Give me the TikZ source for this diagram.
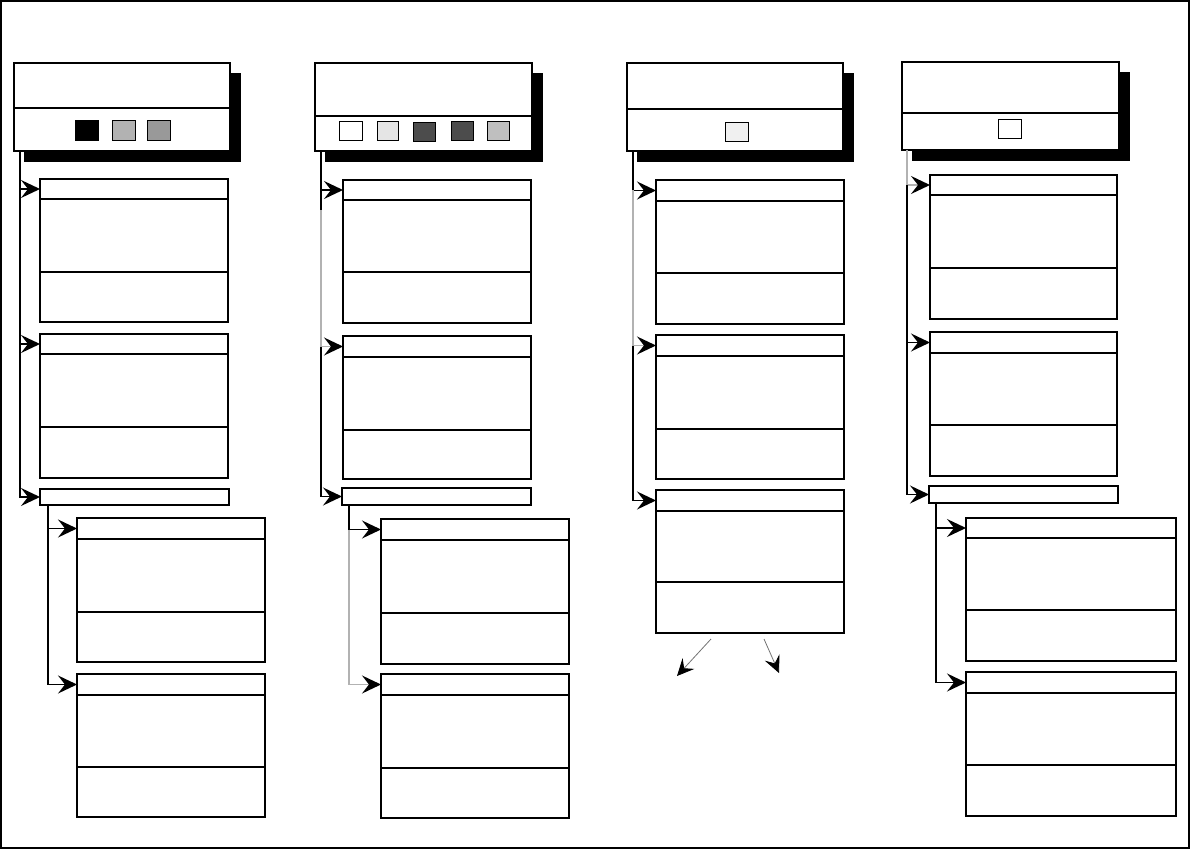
\documentclass[tikz,border=0pt]{standalone}
\usetikzlibrary{arrows.meta}
\tikzset{
  cbox/.style={draw=black, line width=1.4pt, fill=white, inner sep=0pt, outer sep=0pt},
  hbox/.style={draw=black, line width=1.8pt, fill=white, inner sep=0pt, outer sep=0pt},
  divline/.style={draw=black, line width=1.4pt},
  shadowbox/.style={fill=black, draw=none},
  swatch/.style={draw=black, line width=1pt},
  trunk/.style={draw=black, line width=1.4pt},
  faint/.style={draw=black!30, line width=1.4pt},
  conn/.style={draw=black, line width=1.4pt, -{Stealth[length=19pt,width=18pt,inset=7pt,color=black]}},
  thinarrow/.style={draw=black!55, line width=0.8pt, -{Stealth[length=17pt,width=16pt,inset=6.5pt,color=black]}},
  frame/.style={draw=black, line width=1.5pt}
}
\newcommand\mkbox[7]{%
  \node[cbox, anchor=north west, minimum width={(#4-#2)*1pt}, minimum height={(#5-#3)*1pt}] (#1) at (#2,#3) {};
  \coordinate (#1-t) at (#2,{(#3+#6)/2});
  \draw[divline] (#2,#6) -- (#4,#6);
  \draw[divline] (#2,#7) -- (#4,#7);
}
\newcommand\mkbar[5]{%
  \node[cbox, anchor=north west, minimum width={(#4-#2)*1pt}, minimum height={(#5-#3)*1pt}] (#1) at (#2,#3) {};
  \coordinate (#1-t) at (#2,{(#3+#5)/2});
}
\newcommand\mkhead[6]{%
  \fill[shadowbox] ({#2+10},{#3+10}) rectangle ({#4+11},{#5+11});
  \node[hbox, anchor=north west, minimum width={(#4-#2)*1pt}, minimum height={(#5-#3)*1pt}] (#1) at (#2,#3) {};
  \draw[divline] (#2,#6) -- (#4,#6);
}
\begin{document}
\begin{tikzpicture}[x=1pt,y=-1pt]
\useasboundingbox (0,0) rectangle (1191,850);
\draw[frame] (1,1) rectangle (1189,848);

% ---------- Column 1 ----------
\mkhead{h1}{14}{63}{230}{151}{108}
\draw[swatch, fill=black] (75,121) rectangle (98,141);
\draw[swatch, fill=black!30] (112,121) rectangle (135,141);
\draw[swatch, fill=black!40] (147,121) rectangle (170,141);
\coordinate (h1-tr) at (20,151);
\mkbox{c11}{40}{179}{228}{322}{199}{272}
\mkbox{c12}{40}{334}{228}{478}{354}{427}
\mkbar{c13}{40}{489}{229}{505}
\coordinate (c13-tr) at (48,505);
\mkbox{c14}{77}{518}{265}{662}{539}{612}
\mkbox{c15}{77}{674}{265}{817}{695}{767}
\draw[conn] (h1-tr) |- (c11-t);
\draw[conn] (h1-tr) |- (c12-t);
\draw[conn] (h1-tr) |- (c13-t);
\draw[conn] (c13-tr) |- (c14-t);
\draw[conn] (c13-tr) |- (c15-t);

% ---------- Column 2 ----------
\mkhead{h2}{315}{63}{532}{151}{116}
\draw[swatch, fill=white] (339,122) rectangle (362,141);
\draw[swatch, fill=black!10] (377,122) rectangle (398,141);
\draw[swatch, fill=black!70] (413,123) rectangle (435,142);
\draw[swatch, fill=black!70] (451,122) rectangle (473,141);
\draw[swatch, fill=black!25] (487,122) rectangle (509,141);
\coordinate (h2-tr) at (321,151);
\coordinate (h2-g) at (321,210);
\mkbox{c21}{343}{180}{531}{323}{200}{272}
\mkbox{c22}{343}{336}{531}{479}{357}{430}
\mkbar{c23}{342}{488}{531}{505}
\coordinate (c23-tr) at (349,505);
\mkbox{c24}{381}{519}{569}{664}{540}{613}
\mkbox{c25}{381}{674}{569}{818}{695}{768}
\draw[trunk] (h2-tr) -- (h2-g);
\draw[conn] (h2-tr) |- (c21-t);
\draw[faint] (h2-g) -- (c22-t -| h2-tr);
\draw[conn, draw=black!30] (c22-t -| h2-tr) -- (c22-t);
\draw[conn] (c22-t -| h2-tr) |- (c23-t);
\draw[conn] (c23-tr) |- (c24-t);
\draw[faint] (c24-t -| c23-tr) -- (c25-t -| c23-tr);
\draw[conn, draw=black!30] (c25-t -| c23-tr) -- (c25-t);

% ---------- Column 3 ----------
\mkhead{h3}{627}{63}{843}{151}{109}
\draw[swatch, fill=black!6] (725,123) rectangle (748,142);
\coordinate (h3-tr) at (633,151);
\mkbox{c31}{656}{180}{844}{324}{201}{273}
\mkbox{c32}{656}{335}{844}{479}{356}{429}
\mkbox{c33}{656}{490}{844}{633}{511}{582}
\draw[conn] (h3-tr) |- (c31-t);
\draw[faint] (c31-t -| h3-tr) -- (c32-t -| h3-tr);
\draw[conn, draw=black!30] (c32-t -| h3-tr) -- (c32-t);
\draw[conn] (c32-t -| h3-tr) |- (c33-t);
\coordinate (a1s) at (711,639);
\coordinate (a1e) at (677,676);
\coordinate (a2s) at (764,639);
\coordinate (a2e) at (779,673);
\draw[thinarrow] (a1s) -- (a1e);
\draw[thinarrow] (a2s) -- (a2e);

% ---------- Column 4 ----------
\mkhead{h4}{902}{62}{1119}{150}{113}
\draw[swatch, fill=white] (998,120) rectangle (1021,139);
\coordinate (h4-tr) at (907,150);
\mkbox{c41}{930}{175}{1117}{319}{195}{268}
\mkbox{c42}{930}{332}{1117}{476}{353}{425}
\mkbar{c43}{929}{486}{1118}{503}
\coordinate (c43-tr) at (936,503);
\mkbox{c44}{966}{518}{1176}{661}{538}{610}
\mkbox{c45}{966}{672}{1176}{816}{693}{765}
\draw[conn, draw=black!30] (h4-tr) |- (c41-t);
\draw[conn] (c41-t -| h4-tr) |- (c42-t);
\draw[conn] (c41-t -| h4-tr) |- (c43-t);
\draw[conn] (c43-tr) |- (c44-t);
\draw[conn] (c43-tr) |- (c45-t);
\end{tikzpicture}
\end{document}
